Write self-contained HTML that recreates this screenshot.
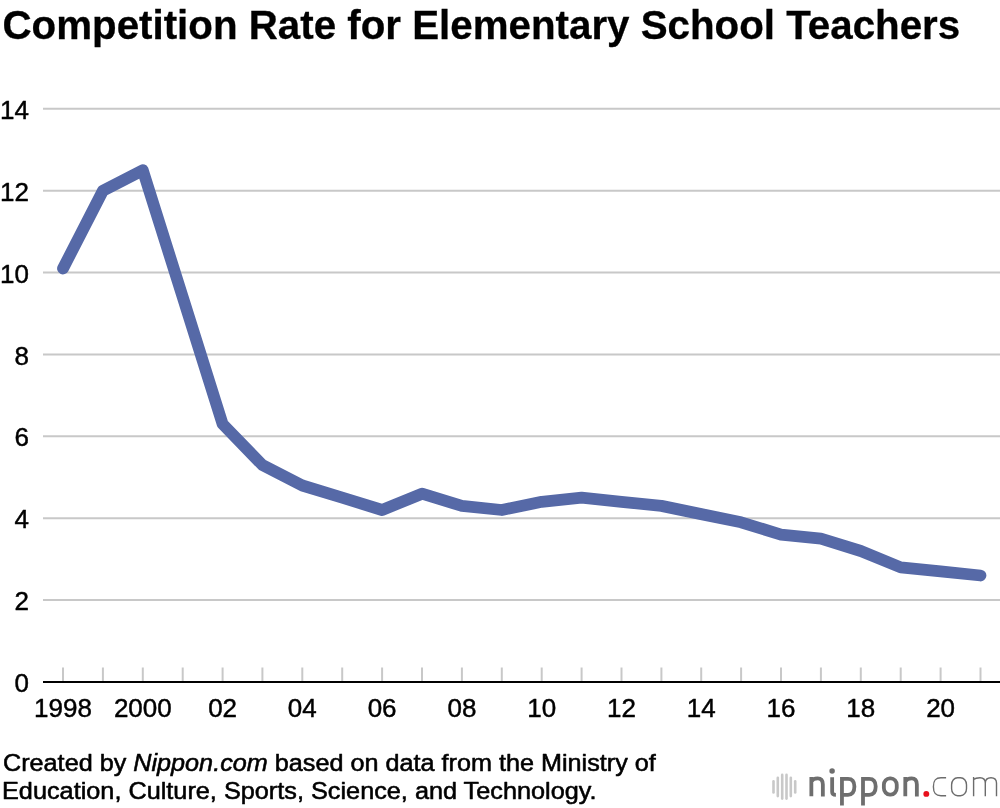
<!DOCTYPE html>
<html><head><meta charset="utf-8"><style>
html,body{margin:0;padding:0;background:#fff;width:1000px;height:808px;overflow:hidden}
svg{display:block;will-change:transform;font-family:"Liberation Sans",sans-serif}
</style></head><body>
<svg width="1000" height="808" viewBox="0 0 1000 808">
<text x="2.5" y="38.75" font-size="40.5" font-weight="bold" fill="#000" stroke="#000" stroke-width="0.3" textLength="957.7" lengthAdjust="spacingAndGlyphs">Competition Rate for Elementary School Teachers</text>
<g stroke="#c8c8c8" stroke-width="2"><line x1="43" x2="1000" y1="600.1" y2="600.1" /><line x1="43" x2="1000" y1="518.2" y2="518.2" /><line x1="43" x2="1000" y1="436.3" y2="436.3" /><line x1="43" x2="1000" y1="354.4" y2="354.4" /><line x1="43" x2="1000" y1="272.6" y2="272.6" /><line x1="43" x2="1000" y1="190.7" y2="190.7" /><line x1="43" x2="1000" y1="108.8" y2="108.8" /><line x1="63.0" x2="63.0" y1="667.5" y2="681" /><line x1="102.9" x2="102.9" y1="667.5" y2="681" /><line x1="142.8" x2="142.8" y1="667.5" y2="681" /><line x1="182.7" x2="182.7" y1="667.5" y2="681" /><line x1="222.6" x2="222.6" y1="667.5" y2="681" /><line x1="262.4" x2="262.4" y1="667.5" y2="681" /><line x1="302.3" x2="302.3" y1="667.5" y2="681" /><line x1="342.2" x2="342.2" y1="667.5" y2="681" /><line x1="382.1" x2="382.1" y1="667.5" y2="681" /><line x1="422.0" x2="422.0" y1="667.5" y2="681" /><line x1="461.9" x2="461.9" y1="667.5" y2="681" /><line x1="501.8" x2="501.8" y1="667.5" y2="681" /><line x1="541.7" x2="541.7" y1="667.5" y2="681" /><line x1="581.6" x2="581.6" y1="667.5" y2="681" /><line x1="621.5" x2="621.5" y1="667.5" y2="681" /><line x1="661.4" x2="661.4" y1="667.5" y2="681" /><line x1="701.2" x2="701.2" y1="667.5" y2="681" /><line x1="741.1" x2="741.1" y1="667.5" y2="681" /><line x1="781.0" x2="781.0" y1="667.5" y2="681" /><line x1="820.9" x2="820.9" y1="667.5" y2="681" /><line x1="860.8" x2="860.8" y1="667.5" y2="681" /><line x1="900.7" x2="900.7" y1="667.5" y2="681" /><line x1="940.6" x2="940.6" y1="667.5" y2="681" /><line x1="980.5" x2="980.5" y1="667.5" y2="681" /></g>
<line x1="43" x2="1000" y1="682" y2="682" stroke="#000" stroke-width="2"/>
<g font-size="26" fill="#000" stroke="#000" stroke-width="0.45" stroke-linejoin="round"><text x="29" y="692.1" text-anchor="end">0</text><text x="29" y="610.2" text-anchor="end">2</text><text x="29" y="528.3" text-anchor="end">4</text><text x="29" y="446.4" text-anchor="end">6</text><text x="29" y="364.5" text-anchor="end">8</text><text x="29" y="282.7" text-anchor="end">10</text><text x="29" y="200.8" text-anchor="end">12</text><text x="29" y="118.9" text-anchor="end">14</text><text x="63.0" y="717.3" text-anchor="middle">1998</text><text x="142.8" y="717.3" text-anchor="middle">2000</text><text x="222.6" y="717.3" text-anchor="middle">02</text><text x="302.3" y="717.3" text-anchor="middle">04</text><text x="382.1" y="717.3" text-anchor="middle">06</text><text x="461.9" y="717.3" text-anchor="middle">08</text><text x="541.7" y="717.3" text-anchor="middle">10</text><text x="621.5" y="717.3" text-anchor="middle">12</text><text x="701.2" y="717.3" text-anchor="middle">14</text><text x="781.0" y="717.3" text-anchor="middle">16</text><text x="860.8" y="717.3" text-anchor="middle">18</text><text x="940.6" y="717.3" text-anchor="middle">20</text></g>
<polyline points="63.0,268.5 102.9,190.7 142.8,170.2 182.7,297.1 222.6,424.0 262.4,465.0 302.3,485.5 342.2,497.7 382.1,510.0 422.0,493.7 461.9,505.9 501.8,510.0 541.7,501.8 581.6,497.7 621.5,501.8 661.4,505.9 701.2,514.1 741.1,522.3 781.0,534.6 820.9,538.7 860.8,551.0 900.7,567.4 940.6,571.4 980.5,575.5" fill="none" stroke="#5669a7" stroke-width="11.8" stroke-linejoin="round" stroke-linecap="round"/>
<g font-size="23.7" fill="#000" stroke="#000" stroke-width="0.55" stroke-linejoin="round">
<text x="3" y="771" textLength="652.8" lengthAdjust="spacingAndGlyphs">Created by <tspan font-style="italic">Nippon.com</tspan> based on data from the Ministry of</text>
<text x="2" y="799" textLength="594.6" lengthAdjust="spacingAndGlyphs">Education, Culture, Sports, Science, and Technology.</text>
</g>
<g stroke="#c8c8c8" stroke-width="2.6" stroke-linecap="round">
<line x1="773.5" x2="773.5" y1="781.4" y2="792.5"/>
<line x1="777.8" x2="777.8" y1="777.7" y2="796.1"/>
<line x1="782.2" x2="782.2" y1="774.9" y2="798.6"/>
<line x1="786.5" x2="786.5" y1="774.9" y2="798.6"/>
<line x1="790.8" x2="790.8" y1="777.7" y2="796.1"/>
<line x1="795.2" x2="795.2" y1="781.4" y2="792.5"/>
</g>
<g fill="none" stroke="#6e6e6e" stroke-width="3.8" stroke-linejoin="miter">
<path d="M811.35 796.2 V777 M811.35 781.5 C812.5 779.3 814.5 778.3 817.6 778.3 C821.5 778.3 822.85 780.5 822.85 784.5 V796.5"/>
<path d="M832.15 777.2 V792 Q832.15 794.9 835.9 794.9"/>
<path d="M841.95 805.6 V778.85 H848 Q854.4 778.85 854.4 786.6 Q854.4 794.8 848 794.8 H841.95"/>
<path d="M863 805.6 V778.85 H869.2 Q875.7 778.85 875.7 786.6 Q875.7 794.8 869.2 794.8 H863"/>
<rect x="883.85" y="778.35" width="12.9" height="16.2" rx="6" ry="6.5"/>
<path d="M905.3 796.2 V777 M905.3 781.5 C906.5 779.3 908.5 778.3 911.6 778.3 C915.5 778.3 916.85 780.5 916.85 784.5 V796.5"/>
</g>
<circle cx="832.1" cy="771.1" r="2.75" fill="#6e6e6e"/>
<circle cx="926.3" cy="793.9" r="2.95" fill="#e8101c"/>
<g fill="none" stroke="#6c6c6c" stroke-width="1.4">
<path d="M946.1 777.7 L941 777.7 C935.3 777.7 933.4 780.5 933.4 786.7 C933.4 792.9 935.3 795.7 941 795.7 L946.1 795.7"/>
<rect x="951.6" y="777.7" width="14.9" height="18" rx="6" ry="7"/>
<path d="M973.6 796.3 V777.1 M973.6 779.6 Q975.5 777.7 980 777.7 Q985.3 777.7 985.3 783 V796.3 M985.3 783 Q985.3 777.7 991 777.7 Q996.5 777.7 996.5 783 V796.3"/>
</g>
</svg>
</body></html>
